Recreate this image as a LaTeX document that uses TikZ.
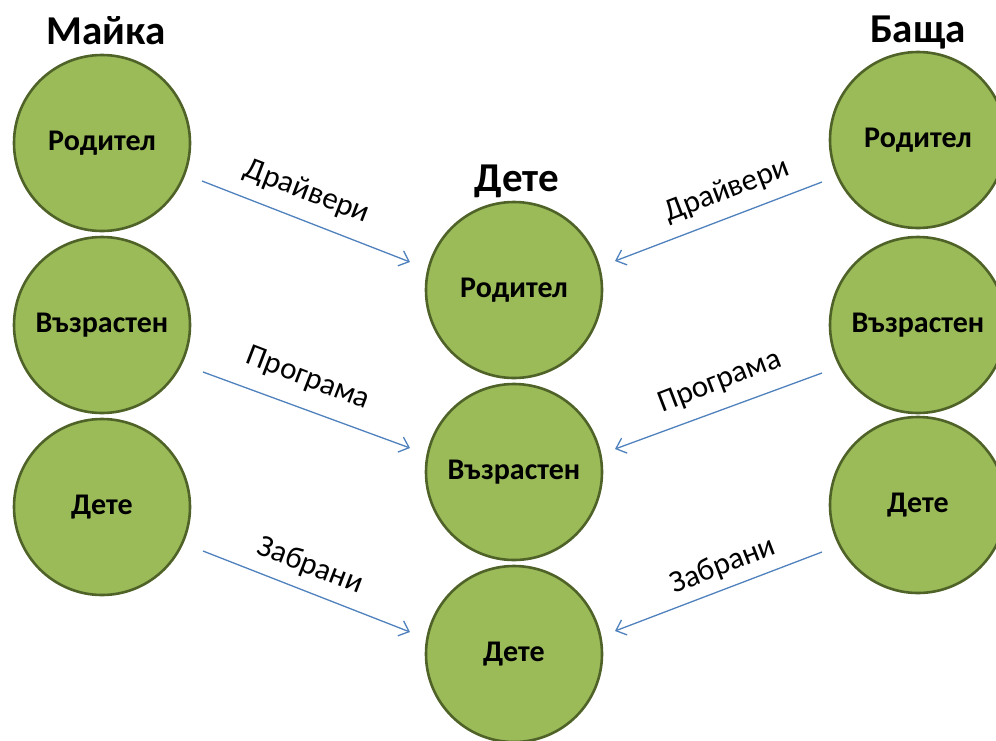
\documentclass[tikz,border=0pt]{standalone}
\usepackage{fontspec}
\setmainfont{Carlito}
\usetikzlibrary{arrows.meta}
\definecolor{cfill}{HTML}{9BBB59}
\definecolor{cline}{HTML}{4F6228}
\definecolor{carrow}{HTML}{4F81BD}
\tikzset{
  role/.style={circle, draw=cline, fill=cfill, line width=2.6pt, minimum size=176pt, inner sep=0pt,
    font=\fontsize{30}{34}\selectfont\bfseries},
  title/.style={font=\fontsize{41}{46}\selectfont\bfseries},
  arr/.style={draw=carrow, line width=1.3pt, -{Straight Barb[length=9pt,width=16pt,line width=1.3pt]}},
  lbl/.style={font=\fontsize{31}{34}\selectfont, inner sep=0pt}
}
\begin{document}
\begin{tikzpicture}[x=1pt,y=-1pt]
\useasboundingbox (0,0) rectangle (996,740);
% titles
\node[title] (tm) at (106,31) {Майка};
\node[title] (tc) at (517,181) {Дете};
\node[title] (tf) at (918,33) {Баща};
% left column
\node[role] (l1) at (102,143) {Родител};
\node[role] (l2) at (102,325) {Възрастен};
\node[role] (l3) at (102,507) {Дете};
% middle column
\node[role] (m1) at (514,290) {Родител};
\node[role] (m2) at (514,472) {Възрастен};
\node[role] (m3) at (514,654) {Дете};
% right column
\node[role] (r1) at (918,140) {Родител};
\node[role] (r2) at (918,325) {Възрастен};
\node[role] (r3) at (918,505) {Дете};
% arrow end points
\coordinate (a1s) at (202,181); \coordinate (a1e) at (410,262);
\coordinate (a2s) at (203,372); \coordinate (a2e) at (410,448);
\coordinate (a3s) at (203,551); \coordinate (a3e) at (410,632);
\coordinate (b1s) at (822,182); \coordinate (b1e) at (615,261);
\coordinate (b2s) at (822,373); \coordinate (b2e) at (615,449);
\coordinate (b3s) at (822,552); \coordinate (b3e) at (615,631);
\draw[arr] (a1s) -- (a1e);
\draw[arr] (a2s) -- (a2e);
\draw[arr] (a3s) -- (a3e);
\draw[arr] (b1s) -- (b1e);
\draw[arr] (b2s) -- (b2e);
\draw[arr] (b3s) -- (b3e);
% labels
\node[lbl, rotate=-21] (ta1) at (307,192) {Драйвери};
\node[lbl, rotate=-21] (ta2) at (308,379) {Програма};
\node[lbl, rotate=-21] (ta3) at (310,566) {Забрани};
\node[lbl, rotate=21] (tb1) at (727,191) {Драйвери};
\node[lbl, rotate=21] (tb2) at (720,382) {Програма};
\node[lbl, rotate=21] (tb3) at (723,566) {Забрани};
\end{tikzpicture}
\end{document}
